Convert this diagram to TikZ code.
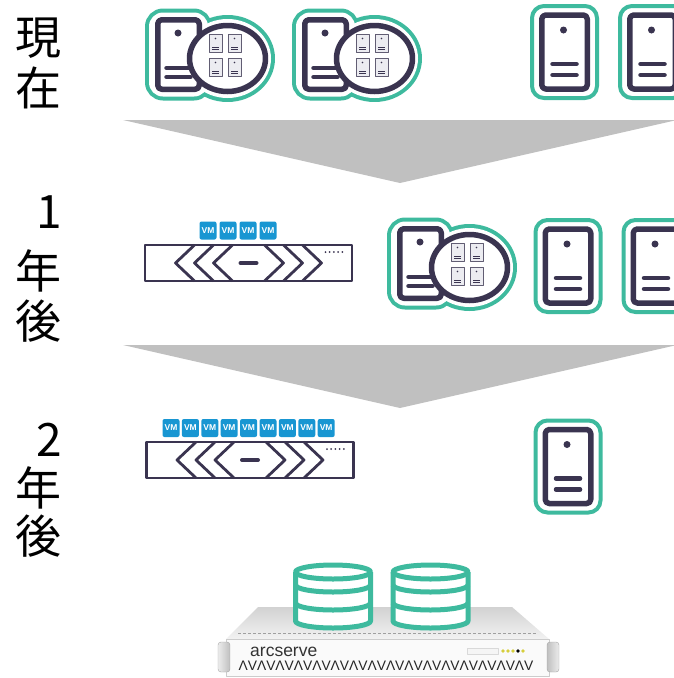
\documentclass[tikz,border=0pt]{standalone}
\usepackage{fontspec}
\usepackage{tikz}
\setmainfont{Liberation Sans}
\newfontfamily\jpfont{Noto Sans CJK JP}
\definecolor{ringgreen}{RGB}{62,186,158}
\definecolor{inkpurple}{RGB}{58,52,80}
\definecolor{vmblue}{RGB}{24,150,210}
\definecolor{flowgray}{RGB}{192,192,192}
\definecolor{minifill}{RGB}{236,236,241}
\tikzset{
  year/.style={font=\jpfont\fontsize{46}{50}\selectfont,inner sep=0pt,anchor=east},
  vm/.style={fill=vmblue,text=white,rounded corners=2pt,minimum width=17pt,minimum height=18pt,inner sep=0pt,font=\bfseries\fontsize{8.5}{9}\selectfont},
  case/.style={draw=inkpurple,line width=5.5pt,rounded corners=4pt,fill=white},
  bar/.style={draw=inkpurple,line width=4.5pt,line cap=round},
  halo/.style={draw=ringgreen,line width=8pt,rounded corners=14pt},
  mini/.style={draw=inkpurple!80,line width=0.8pt,fill=minifill},
  rackline/.style={draw=inkpurple,line width=2.8pt},
  disk/.style={draw=ringgreen,line width=5pt,fill=white},
  tower/.pic={
    \draw[ringgreen,line width=4pt,rounded corners=12pt] (-32.5,-46) rectangle (32.5,46);
    \draw[case] (-22.75,-37) rectangle (22.75,37);
    \fill[inkpurple] (-1,-22) circle (3.5);
    \draw[bar] (-12,12) -- (12,12);
    \draw[bar] (-12,23) -- (12,23);
  },
  combo/.pic={
    \draw[halo] (-29.5,-42) rectangle (29.5,42);
    \draw[halo] (49,4) ellipse [x radius=43.5,y radius=39.5];
    \fill[white,rounded corners=14pt] (-29.5,-42) rectangle (29.5,42);
    \fill[white] (49,4) ellipse [x radius=43.5,y radius=39.5];
    \draw[case] (-20.75,-34.75) rectangle (20.75,34.75);
    \fill[inkpurple] (-0.5,-21.5) circle (3.5);
    \draw[bar] (-12,13.5) -- (12,13.5);
    \draw[bar] (-12,22.5) -- (12,22.5);
    \draw[inkpurple,line width=5.5pt,fill=white] (49,4) ellipse [x radius=38,y radius=33];
    \foreach \mx in {-9.5,9.5}
      \foreach \my in {-12,12} {
        \begin{scope}[shift={(46.5+\mx,1+\my)}]
          \draw[mini] (-6.5,-9) rectangle (6.5,9);
          \fill[inkpurple] (0,-5) circle (0.9);
          \draw[inkpurple,line width=0.8pt] (-3.5,3.5) -- (3.5,3.5) (-3.5,6) -- (3.5,6);
        \end{scope}
      }
  },
  rack/.pic={
    \draw[rackline] (-103.5,-18) rectangle (103.5,18);
    \foreach \t in {-73,-54,-35}
      \draw[rackline] (\t+19,-18) -- (\t,0) -- (\t+19,18);
    \foreach \t in {35,54,73}
      \draw[rackline] (\t-19,-18) -- (\t,0) -- (\t-19,18);
    \draw[bar,line width=4pt] (-8,0) -- (8,0);
    \foreach \d in {0,...,4}
      \fill[inkpurple] (77+\d*4.2,-11) circle (1);
  },
}

\begin{document}
\begin{tikzpicture}[x=1pt,y=-1pt,line join=round]
\useasboundingbox (0,0) rectangle (674,678);
\clip (0,0) rectangle (674,678);

% time labels
\node[year] (now1) at (62,38) {現};
\node[year] (now2) at (62,88) {在};
\node[year] (one1) at (62,212) {1};
\node[year] (one2) at (62,271) {年};
\node[year] (one3) at (62,321) {後};
\node[year] (two1) at (62,440) {2};
\node[year] (two2) at (62,488) {年};
\node[year] (two3) at (62,536) {後};

% flow arrows
\fill[flowgray] (123,120) -- (677,120) -- (400,183) -- cycle;
\fill[flowgray] (123,345) -- (677,345) -- (400,408) -- cycle;

% now
\pic at (178.5,54.5) {combo};
\pic at (325.5,54.5) {combo};
\pic at (564.5,52) {tower};
\pic at (652.5,52) {tower};

% one year
\pic at (248.5,263) {rack};
\foreach \i in {1,...,4}
  \node[vm] (vmb\i) at ({208+(\i-1)*20},230.5) {VM};
\pic at (420.5,263.5) {combo};
\pic at (568,266) {tower};
\pic at (656,266) {tower};

% two years
\pic at (250,460) {rack};
\foreach \i in {1,...,9}
  \node[vm] (vmc\i) at ({171+(\i-1)*19.4},428) {VM};
\pic at (568,466.5) {tower};

% backup appliance
\shade[top color=gray!35,bottom color=gray!10] (258,607) -- (512,607) -- (549,639) -- (226,639) -- cycle;
\draw[gray!75,dash pattern=on 3pt off 2pt,line width=1pt] (238,633) -- (537,633);
\draw[gray!40,fill=gray!4] (226,639) rectangle (549,676);
\shadedraw[left color=gray!15,right color=gray!50,draw=gray!70,rounded corners=3pt] (218,642) rectangle (230,672);
\shadedraw[left color=gray!50,right color=gray!15,draw=gray!70,rounded corners=3pt] (547,642) rectangle (559,672);
\draw[gray!30,fill=gray!8] (467,648) rectangle (498,654);
\node[anchor=base west,inner sep=0pt,text=black!80,font=\fontsize{17.5}{18}\selectfont] (brand) at (250,656) {arcserve};
\node[inner sep=0pt,text=black!85,font=\fontsize{13.8}{14}\selectfont] (pattern) at (386,666) {ΛVΛVΛVΛVΛVΛVΛVΛVΛVΛVΛVΛVΛVΛVΛVΛV};
\foreach \l/\c in {0/yellow!80!black!90,1/yellow!80!black!90,2/yellow!80!black!90,3/black,4/yellow!80!black!90}
  \fill[\c] (503+\l*5,651) circle (1.8);

% storage
\foreach \cx in {333,430.5} {
  \filldraw[disk] (\cx-37.5,572) -- (\cx-37.5,621) arc[start angle=180,end angle=0,x radius=37.5,y radius=7] -- (\cx+37.5,572);
  \draw[disk] (\cx,572) ellipse [x radius=37.5,y radius=7];
  \draw[disk,fill=none] (\cx-37.5,585) arc[start angle=180,end angle=0,x radius=37.5,y radius=7];
  \draw[disk,fill=none] (\cx-37.5,603) arc[start angle=180,end angle=0,x radius=37.5,y radius=7];
}
\end{tikzpicture}
\end{document}
